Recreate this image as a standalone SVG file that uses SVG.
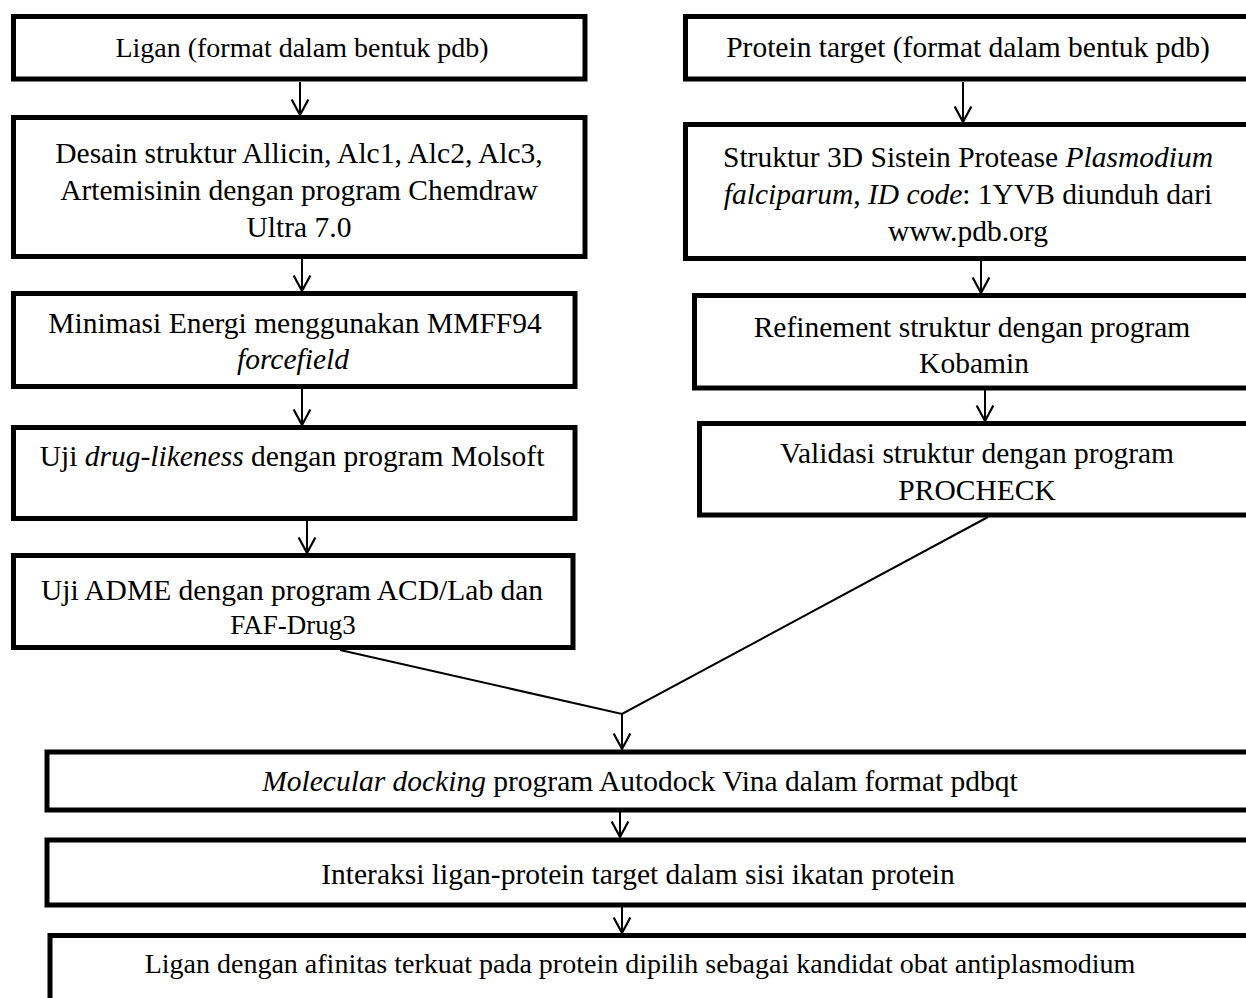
<svg xmlns="http://www.w3.org/2000/svg" width="1246" height="998" viewBox="0 0 1246 998">
<style>
.box{fill:#fff;stroke:#000;stroke-width:5}
.t{font-family:"Liberation Serif","Times New Roman",serif;font-size:29.5px;fill:#000;text-anchor:middle}
.s{font-size:27px}
.l{font-size:28px}
.f{font-size:28px}
.i{font-style:italic}
.c{fill:none;stroke:#000;stroke-width:2}
</style>
<defs>
<marker id="ah" markerUnits="userSpaceOnUse" markerWidth="20" markerHeight="20" refX="0" refY="0" viewBox="-14 -9 16 18" orient="auto" overflow="visible">
<path d="M-14,-7.5 L0,0 L-14,7.5" fill="none" stroke="#000" stroke-width="2"/>
</marker>
</defs>
<rect width="1246" height="998" fill="#fff"/>
<g id="connectors">
<line class="c" x1="300" y1="82" x2="300" y2="115" marker-end="url(#ah)"/>
<line class="c" x1="302" y1="259" x2="302" y2="291" marker-end="url(#ah)"/>
<line class="c" x1="302" y1="389" x2="302" y2="425" marker-end="url(#ah)"/>
<line class="c" x1="307" y1="521" x2="307" y2="553" marker-end="url(#ah)"/>
<line class="c" x1="963" y1="82" x2="963" y2="122" marker-end="url(#ah)"/>
<line class="c" x1="981" y1="261" x2="981" y2="293" marker-end="url(#ah)"/>
<line class="c" x1="985" y1="390" x2="985" y2="421" marker-end="url(#ah)"/>
<polyline class="c" points="340,650 622,714 988,517"/>
<line class="c" x1="622" y1="714" x2="622" y2="749" marker-end="url(#ah)"/>
<line class="c" x1="620" y1="812" x2="620" y2="837" marker-end="url(#ah)"/>
<line class="c" x1="622" y1="907" x2="622" y2="933" marker-end="url(#ah)"/>
</g>
<g id="n1">
<rect class="box" x="13.5" y="16.5" width="571.5" height="62.5"/>
<text class="t l" x="302" y="57">Ligan (format dalam bentuk pdb)</text>
</g>
<g id="n2">
<rect class="box" x="13.5" y="117.5" width="571.5" height="139"/>
<text class="t" x="299" y="163">Desain struktur Allicin, Alc1, Alc2, Alc3,</text>
<text class="t" x="299" y="200">Artemisinin dengan program Chemdraw</text>
<text class="t" x="299" y="237">Ultra 7.0</text>
</g>
<g id="n3">
<rect class="box" x="13.5" y="293.5" width="561.5" height="93"/>
<text class="t" x="295" y="333">Minimasi Energi menggunakan MMFF94</text>
<text class="t i" x="293" y="369">forcefield</text>
</g>
<g id="n4">
<rect class="box" x="13.5" y="427.5" width="561.5" height="91"/>
<text class="t" x="292" y="466">Uji <tspan class="i">drug-likeness</tspan> dengan program Molsoft</text>
</g>
<g id="n5">
<rect class="box" x="13.5" y="555.5" width="559.5" height="92"/>
<text class="t" x="292" y="600">Uji ADME dengan program ACD/Lab dan</text>
<text class="t s" x="293" y="634">FAF-Drug3</text>
</g>
<g id="r1">
<rect class="box" x="685.5" y="16.5" width="570" height="62.5"/>
<text class="t" x="968" y="57">Protein target (format dalam bentuk pdb)</text>
</g>
<g id="r2">
<rect class="box" x="685.5" y="124.5" width="570" height="134"/>
<text class="t" x="968" y="167">Struktur 3D Sistein Protease <tspan class="i">Plasmodium</tspan></text>
<text class="t" x="968" y="204"><tspan class="i">falciparum</tspan>, <tspan class="i">ID code</tspan>: 1YVB diunduh dari</text>
<text class="t" x="968" y="241">www.pdb.org</text>
</g>
<g id="r3">
<rect class="box" x="694.5" y="295.5" width="560" height="92.5"/>
<text class="t" x="972" y="337">Refinement struktur dengan program</text>
<text class="t" x="974" y="373">Kobamin</text>
</g>
<g id="r4">
<rect class="box" x="699.5" y="423.5" width="555" height="91.5"/>
<text class="t" x="977" y="463">Validasi struktur dengan program</text>
<text class="t" x="977" y="500">PROCHECK</text>
</g>
<g id="b1">
<rect class="box" x="47" y="752" width="1210" height="58"/>
<text class="t" x="640" y="791"><tspan class="i">Molecular docking</tspan> program Autodock Vina dalam format pdbqt</text>
</g>
<g id="b2">
<rect class="box" x="47" y="840" width="1210" height="65"/>
<text class="t" x="638" y="884">Interaksi ligan-protein target dalam sisi ikatan protein</text>
</g>
<g id="b3">
<rect class="box" x="50" y="935.5" width="1210" height="80"/>
<text class="t f" x="640" y="973">Ligan dengan afinitas terkuat pada protein dipilih sebagai kandidat obat antiplasmodium</text>
</g>
</svg>
